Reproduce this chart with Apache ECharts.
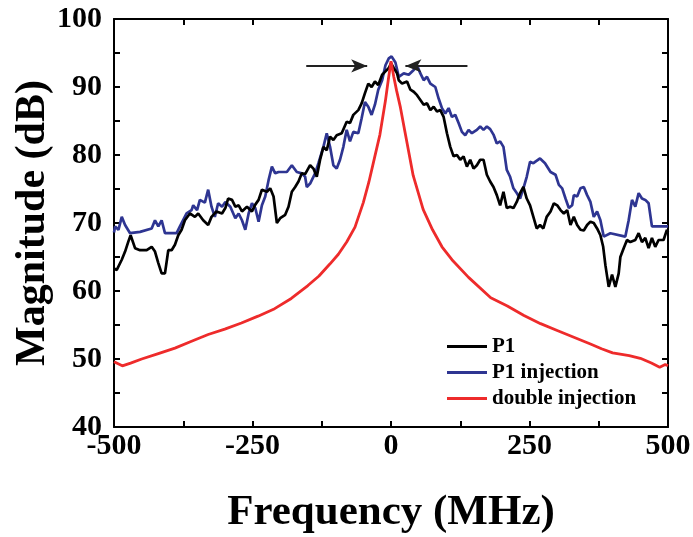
<!DOCTYPE html>
<html>
<head>
<meta charset="utf-8">
<script src="https://cdn.jsdelivr.net/npm/echarts@6/dist/echarts.min.js"></script>
<style>
  html, body { margin: 0; padding: 0; background: #fff; }
  #chart { width: 693px; height: 537px; }
</style>
</head>
<body>
<div id="chart"></div>
<script>
// P1 (black)
const p1Freq = [-500, -495, -486, -480, -474, -470, -462, -453, -441, -432, -426, -420, -414, -408, -402, -396, -390, -384, -378, -372, -363, -354, -348, -339, -330, -324, -315, -305, -299, -294, -287, -281, -275, -269, -260, -251, -245, -239, -233, -224, -218, -212, -206, -200, -191, -185, -179, -173, -167, -161, -155, -146, -140, -134, -128, -122, -116, -110, -104, -98, -89, -80, -74, -68, -59, -53, -47, -41, -35, -29, -23, -16, -10, -4, 0, 5, 11, 14, 20, 29, 35, 41, 47, 53, 59, 65, 71, 77, 83, 89, 95, 101, 107, 113, 119, 125, 131, 137, 143, 149, 155, 161, 167, 173, 179, 185, 191, 197, 203, 209, 215, 221, 227, 233, 239, 245, 251, 257, 263, 269, 275, 281, 288, 294, 300, 306, 312, 318, 324, 330, 336, 342, 348, 354, 360, 366, 372, 378, 383, 387, 393, 399, 405, 411, 414, 420, 426, 432, 441, 447, 453, 459, 465, 471, 477, 483, 492, 498, 500];
const p1Mag = [63.3, 63.1, 64.6, 65.8, 67.3, 68.2, 66.3, 66.0, 66.0, 66.5, 65.8, 64.1, 62.6, 62.6, 66.0, 66.0, 66.8, 68.2, 69.0, 70.4, 71.4, 70.9, 71.4, 70.4, 69.7, 70.9, 71.7, 71.4, 72.2, 73.6, 73.4, 72.4, 72.6, 71.7, 72.4, 71.7, 72.7, 73.4, 74.9, 74.6, 75.1, 73.9, 70.0, 70.7, 71.2, 72.4, 74.6, 75.3, 76.1, 77.3, 77.2, 78.5, 78.0, 76.8, 79.3, 81.2, 80.7, 82.7, 82.2, 82.9, 83.2, 84.9, 84.7, 85.9, 86.6, 87.6, 89.1, 90.5, 90.0, 90.8, 90.3, 91.8, 92.3, 92.8, 93.5, 92.8, 92.0, 91.0, 90.5, 90.8, 89.6, 89.3, 88.8, 88.1, 87.4, 87.6, 86.6, 87.1, 86.4, 86.6, 85.6, 83.2, 81.2, 79.8, 80.0, 79.3, 79.8, 78.3, 79.3, 78.0, 78.5, 79.3, 79.3, 77.1, 76.1, 75.3, 74.1, 72.6, 74.6, 72.2, 72.4, 72.2, 73.1, 74.4, 75.3, 73.6, 72.6, 70.9, 69.2, 69.7, 69.2, 70.9, 71.7, 72.9, 72.6, 71.9, 71.4, 71.9, 69.7, 70.9, 69.7, 69.0, 68.9, 69.7, 70.2, 70.0, 69.2, 68.2, 66.5, 63.8, 60.6, 62.4, 60.6, 62.6, 65.0, 66.3, 67.5, 67.2, 67.5, 68.5, 67.2, 67.8, 66.3, 67.8, 66.5, 67.5, 67.5, 69.0, 68.6];

// P1 injection (blue)
const injFreq = [-500, -498, -492, -486, -480, -471, -453, -432, -426, -420, -414, -408, -387, -381, -369, -360, -357, -350, -345, -336, -330, -324, -318, -312, -305, -299, -290, -281, -275, -269, -263, -257, -251, -245, -239, -233, -227, -221, -215, -209, -203, -197, -188, -179, -170, -161, -155, -152, -146, -137, -131, -122, -116, -110, -104, -98, -92, -86, -80, -74, -68, -59, -53, -47, -41, -35, -29, -23, -16, -10, -4, 1, 8, 14, 23, 32, 41, 47, 53, 59, 65, 71, 80, 86, 92, 98, 104, 110, 116, 122, 128, 134, 140, 146, 155, 161, 167, 173, 179, 185, 191, 197, 203, 209, 215, 221, 227, 233, 239, 245, 251, 257, 269, 278, 288, 297, 303, 309, 315, 321, 327, 330, 336, 342, 348, 354, 360, 366, 372, 378, 384, 396, 423, 429, 435, 441, 447, 453, 459, 465, 471, 500];
const injMag = [68.6, 69.5, 69.0, 70.9, 69.7, 68.5, 68.7, 69.2, 70.4, 69.5, 70.4, 68.5, 68.5, 69.5, 71.4, 71.9, 72.6, 71.9, 73.4, 73.0, 74.9, 72.4, 70.9, 72.9, 72.4, 73.1, 72.4, 70.7, 71.4, 70.4, 69.0, 71.4, 72.9, 72.2, 70.2, 72.6, 73.9, 76.3, 78.3, 77.3, 77.5, 77.5, 77.5, 78.5, 77.5, 77.3, 76.8, 75.3, 75.8, 77.3, 78.8, 81.2, 83.2, 81.2, 78.5, 78.0, 79.3, 81.2, 83.7, 82.0, 83.4, 83.2, 85.4, 87.8, 87.1, 85.9, 87.4, 89.6, 91.0, 93.2, 94.2, 94.5, 93.6, 91.5, 92.0, 91.8, 92.5, 93.2, 92.0, 91.0, 91.5, 90.5, 90.0, 88.3, 86.9, 86.1, 86.9, 85.6, 85.9, 84.7, 83.4, 82.9, 83.7, 83.2, 83.7, 84.2, 83.7, 84.2, 83.8, 83.0, 81.7, 82.0, 81.2, 77.8, 76.8, 75.1, 74.4, 73.6, 75.1, 76.8, 79.0, 78.8, 79.5, 78.8, 77.5, 77.1, 75.6, 75.1, 73.6, 72.2, 72.6, 74.1, 73.9, 75.1, 75.3, 74.1, 73.1, 70.9, 71.7, 70.4, 68.0, 68.5, 68.0, 70.4, 73.4, 72.4, 74.4, 73.6, 73.4, 72.9, 69.5, 69.5];

// double injection (red)
const dblFreq = [-500, -485, -470, -450, -420, -390, -360, -330, -300, -270, -240, -210, -180, -150, -130, -110, -95, -80, -65, -50, -40, -30, -20, -10, -5, 0, 5, 10, 17, 25, 40, 58, 75, 92, 110, 140, 180, 210, 240, 270, 300, 330, 360, 380, 400, 430, 450, 470, 485, 495, 500];
const dblMag = [49.6, 49.0, 49.4, 50.0, 50.8, 51.6, 52.6, 53.6, 54.4, 55.3, 56.3, 57.4, 58.9, 60.8, 62.2, 64.0, 65.4, 67.2, 69.4, 73.0, 76.0, 79.5, 83.0, 88.0, 91.0, 93.8, 91.5, 89.5, 87.0, 83.5, 77.0, 72.0, 69.0, 66.5, 64.6, 62.0, 59.0, 57.8, 56.4, 55.2, 54.2, 53.2, 52.2, 51.5, 50.9, 50.5, 50.1, 49.4, 48.8, 49.2, 49.0];

// arrows marking the linewidth
const arrowLevel = 93.1;
const arrowLeft = [-153, -43];
const arrowRight = [138, 26];

const font = "'Liberation Serif', 'Times New Roman', serif";

const zip = (xs, ys) => xs.map((x, i) => [x, ys[i]]);

const chart = echarts.init(document.getElementById("chart"));

const tickCommon = {
  axisLine: { show: true, onZero: false, lineStyle: { color: "#000", width: 2 } },
  axisTick: { show: true, inside: true, length: 6, lineStyle: { color: "#000", width: 2 } },
  splitLine: { show: false },
};

const lineIcon = "path://M0,0 L40,0 L40,3 L0,3 Z";

const option = {
  animation: false,
  grid: { left: 114, right: 25, top: 19, bottom: 110, outerBoundsMode: "none" },
  legend: {
    left: 447,
    top: 336,
    orient: "vertical",
    padding: 0,
    itemWidth: 40,
    itemHeight: 3,
    itemGap: 5,
    data: [
      { name: "P1", icon: lineIcon },
      { name: "P1 injection", icon: lineIcon },
      { name: "double injection", icon: lineIcon },
    ],
    textStyle: { fontFamily: font, fontWeight: "bold", fontSize: 21, lineHeight: 20, color: "#000" },
  },
  xAxis: [
    {
      type: "value",
      min: -500,
      max: 500,
      interval: 125,
      position: "bottom",
      name: "Frequency (MHz)",
      nameLocation: "middle",
      nameGap: 64,
      nameMoveOverlap: false,
      nameTextStyle: { fontFamily: font, fontWeight: "bold", fontSize: 43, color: "#000" },
      axisLabel: {
        margin: 4,
        fontFamily: font,
        fontWeight: "bold",
        fontSize: 30,
        color: "#000",
        formatter: (v) => (v % 250 === 0 ? String(v) : ""),
      },
      ...tickCommon,
    },
    {
      type: "value",
      min: -500,
      max: 500,
      interval: 125,
      position: "top",
      axisLabel: { show: false },
      ...tickCommon,
    },
  ],
  yAxis: [
    {
      type: "value",
      min: 40,
      max: 100,
      interval: 5,
      position: "left",
      name: "Magnitude (dB)",
      nameLocation: "middle",
      nameGap: 60,
      nameMoveOverlap: false,
      nameTextStyle: { fontFamily: font, fontWeight: "bold", fontSize: 42, color: "#000" },
      axisLabel: {
        margin: 12,
        fontFamily: font,
        fontWeight: "bold",
        fontSize: 30,
        color: "#000",
        formatter: (v) => (v % 10 === 0 ? String(v) : ""),
      },
      ...tickCommon,
    },
    {
      type: "value",
      min: 40,
      max: 100,
      interval: 5,
      position: "right",
      axisLabel: { show: false },
      ...tickCommon,
    },
  ],
  series: [
    {
      name: "P1",
      type: "line",
      symbol: "none",
      data: zip(p1Freq, p1Mag),
      lineStyle: { color: "#000000", width: 2.7 },
      itemStyle: { color: "#000000" },
      z: 3,
    },
    {
      name: "P1 injection",
      type: "line",
      symbol: "none",
      data: zip(injFreq, injMag),
      lineStyle: { color: "#2e3592", width: 2.7 },
      itemStyle: { color: "#2e3592" },
      z: 2,
    },
    {
      name: "double injection",
      type: "line",
      symbol: "none",
      data: zip(dblFreq, dblMag),
      lineStyle: { color: "#ee2b2b", width: 2.8 },
      itemStyle: { color: "#ee2b2b" },
      z: 4,
    },
    {
      name: "arrows",
      type: "line",
      data: [],
      silent: true,
      markLine: {
        silent: true,
        symbol: ["none", "arrow"],
        symbolSize: [10, 16],
        label: { show: false },
        lineStyle: { color: "#222", width: 2.2, type: "solid" },
        data: [
          [{ coord: [arrowLeft[0], arrowLevel] }, { coord: [arrowLeft[1], arrowLevel] }],
          [{ coord: [arrowRight[0], arrowLevel] }, { coord: [arrowRight[1], arrowLevel] }],
        ],
      },
    },
  ],
};

chart.setOption(option);
</script>
</body>
</html>
